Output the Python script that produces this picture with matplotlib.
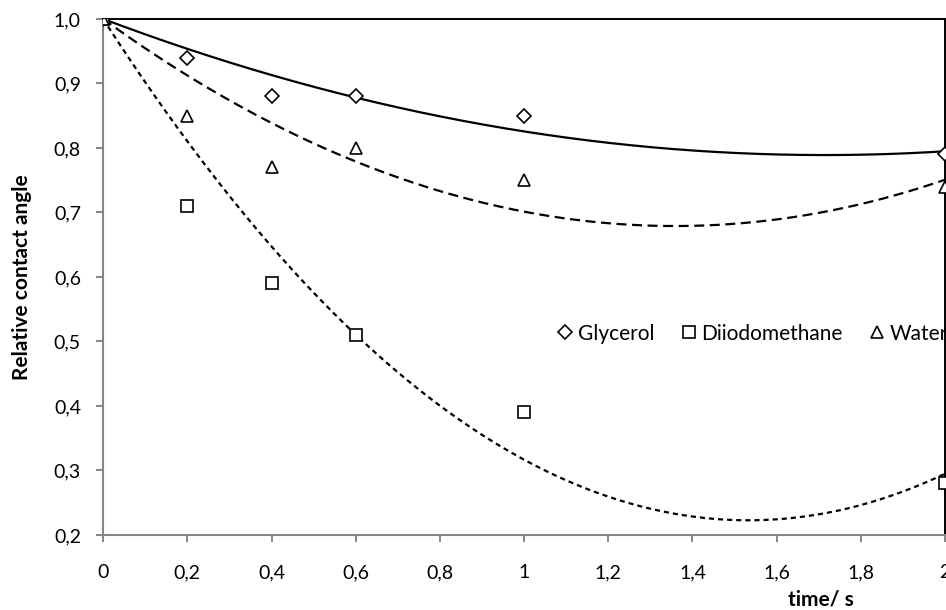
import numpy as np
import matplotlib
matplotlib.use("Agg")
import matplotlib.pyplot as plt
from matplotlib.ticker import FuncFormatter

plt.rcParams['font.family'] = ['Lato', 'DejaVu Sans']

time_s = [0, 0.2, 0.4, 0.6, 1.0, 2.0]
glycerol = [1.0, 0.94, 0.88, 0.88, 0.85, 0.79]
diiodomethane = [1.0, 0.71, 0.59, 0.51, 0.39, 0.28]
water = [1.0, 0.85, 0.77, 0.80, 0.75, 0.74]

x_ticks = [0, 0.2, 0.4, 0.6, 0.8, 1.0, 1.2, 1.4, 1.6, 1.8, 2.0]
y_ticks = [0.2, 0.3, 0.4, 0.5, 0.6, 0.7, 0.8, 0.9, 1.0]

fig = plt.figure(figsize=(9.46, 6.10), dpi=100)
ax = fig.add_axes([0.109, 0.123, 0.89, 0.846])


def trend(ys, xs):
    # 2nd order polynomial trendline with intercept fixed at 1 (Excel style)
    t = np.asarray(time_s)
    A = np.column_stack([t, t ** 2])
    coef, *_ = np.linalg.lstsq(A, np.asarray(ys) - 1.0, rcond=None)
    return 1.0 + coef[0] * xs + coef[1] * xs ** 2


xs = np.linspace(0, 2, 200)
for ys, ls in [(glycerol, '-'), (water, (0, (4.5, 2.5))), (diiodomethane, (0, (2.3, 1.8)))]:
    ax.plot(xs, trend(ys, xs), color='black', lw=1.6, linestyle=ls, zorder=2)

ax.plot(time_s, glycerol, 'D', ms=7, mfc='white', mec='black', mew=1.2,
        label='Glycerol', zorder=3)
ax.plot(time_s, diiodomethane, 's', ms=9, mfc='white', mec='black', mew=1.2,
        label='Diiodomethane', zorder=3)
ax.plot(time_s, water, '^', ms=9, mfc='white', mec='black', mew=1.2,
        label='Water', zorder=3)

ax.set_xlim(0, 2)
ax.set_ylim(0.2, 1.0)
ax.set_xticks(x_ticks)
ax.set_yticks(y_ticks)


def x_fmt(v, pos):
    if abs(v - round(v)) < 1e-9:
        return str(int(round(v)))
    return f"{v:.1f}".replace('.', ',')


def y_fmt(v, pos):
    return f"{v:.1f}".replace('.', ',')


ax.xaxis.set_major_formatter(FuncFormatter(x_fmt))
ax.yaxis.set_major_formatter(FuncFormatter(y_fmt))

for side in ['left', 'bottom']:
    ax.spines[side].set_color('#868686')
    ax.spines[side].set_linewidth(1.5)
for side in ['top', 'right']:
    ax.spines[side].set_color('black')
    ax.spines[side].set_linewidth(1.4)

ax.tick_params(axis='both', direction='out', length=5, width=1.4, color='#868686',
               labelsize=14, labelcolor='black')
ax.tick_params(axis='x', pad=16)
ax.tick_params(axis='y', pad=11)

ax.set_ylabel('Relative contact angle', fontsize=15, fontweight='bold')
ax.yaxis.set_label_coords(-0.085, 0.5)
ax.set_xlabel('time/ s', fontsize=15, fontweight='bold')
ax.xaxis.set_label_coords(0.852, -0.105)

ax.legend(loc='center left', bbox_to_anchor=(0.528, 0.39), ncol=3, frameon=False,
          fontsize=15, handletextpad=0.15, columnspacing=1.2, handlelength=0.9,
          borderaxespad=0)

fig.savefig('out.png', dpi=100)
